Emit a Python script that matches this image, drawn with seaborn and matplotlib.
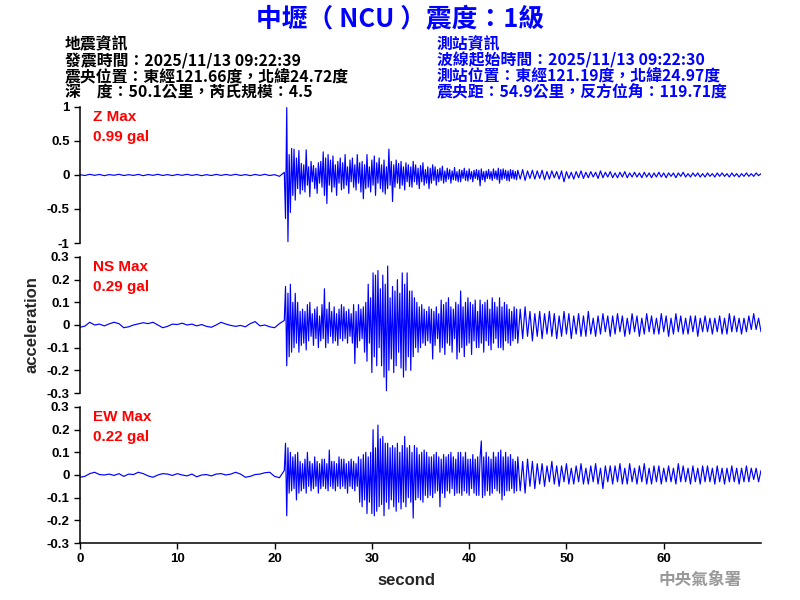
import numpy as np
import seaborn as sns
import matplotlib.pyplot as plt

# pre-event samples, every 0.5 s from 0 s
z_pre = [0.005, -0.008, 0.01, -0.005, 0.008, -0.01, 0.006, -0.004, 0.01, -0.008,
         0.005, -0.006, 0.009, -0.01, 0.007, -0.005, 0.01, -0.007, 0.006, -0.009,
         0.008, -0.005, 0.01, -0.006, 0.007, -0.01, 0.005, -0.008, 0.009, -0.006,
         0.008, -0.005, 0.01, -0.007, 0.006, -0.009, 0.008, -0.006, 0.01, -0.008,
         0.005, -0.02]
ns_pre = [-0.01, -0.005, 0.012, 0.0, 0.004, -0.004, 0.005, 0.012, 0.006, -0.012,
          -0.008, 0.0, 0.005, 0.01, 0.006, 0.012, 0.0, -0.012, -0.006, 0.004,
          0.002, 0.008, 0.0, 0.004, -0.004, 0.002, -0.006, -0.01, 0.0, 0.012,
          0.004, -0.002, -0.006, -0.002, -0.008, 0.006, 0.015, -0.004, 0.0, -0.008,
          -0.012, 0.006]
ew_pre = [-0.01, -0.006, 0.006, 0.012, 0.002, 0.0, 0.004, -0.002, 0.006, -0.006,
          0.004, 0.002, 0.012, 0.006, -0.004, -0.01, 0.0, 0.006, 0.004, -0.002,
          0.006, 0.0, -0.004, 0.004, -0.008, 0.0, 0.002, -0.004, 0.004, 0.006,
          0.0, 0.004, 0.012, 0.004, -0.01, -0.006, 0.002, 0.004, 0.01, 0.012,
          -0.006, -0.012]

# strong shaking, local peaks every 0.125 s from 21 s (one row = 1 s)
z_act = [0.04, -0.64, 0.99, -0.98, 0.3, -0.55, 0.39, -0.3,
         0.38, -0.37, 0.25, -0.2, 0.36, -0.28, 0.17, -0.22,
         0.15, -0.25, 0.37, -0.15, 0.12, -0.32, 0.2, -0.1,
         0.14, -0.2, 0.1, -0.27, 0.18, -0.12, 0.2, -0.18,
         0.34, -0.3, 0.25, -0.42, 0.3, -0.15, 0.22, -0.25,
         0.28, -0.18, 0.15, -0.3, 0.2, -0.12, 0.25, -0.22,
         0.18, -0.2, 0.3, -0.15, 0.12, -0.27, 0.22, -0.1,
         0.25, -0.18, 0.15, -0.22, 0.3, -0.12, 0.18, -0.25,
         0.2, -0.35, 0.15, -0.2, 0.3, -0.18, 0.12, -0.25,
         0.22, -0.15, 0.28, -0.3, 0.18, -0.12, 0.25, -0.2,
         0.15, -0.25, 0.22, -0.28, 0.12, -0.2, 0.38, -0.15,
         0.2, -0.39, 0.15, -0.18, 0.22, -0.12, 0.17, -0.2,
         0.2, -0.15, 0.12, -0.22, 0.18, -0.1, 0.15, -0.17,
         0.12, -0.18, 0.2, -0.1, 0.15, -0.14, 0.1, -0.2,
         0.14, -0.1, 0.18, -0.15, 0.08, -0.12, 0.12, -0.2,
         0.1, -0.12, 0.15, -0.08, 0.12, -0.15, 0.08, -0.1,
         0.1, -0.08, 0.13, -0.12, 0.06, -0.1, 0.1, -0.06,
         0.08, -0.12, 0.06, -0.07, 0.11, -0.08, 0.05, -0.1,
         0.08, -0.1, 0.07, -0.05, 0.1, -0.08, 0.06, -0.09,
         0.09, -0.06, 0.05, -0.1, 0.07, -0.05, 0.08, -0.07,
         0.07, -0.16, 0.09, -0.07, 0.05, -0.1, 0.06, -0.05,
         0.08, -0.06, 0.05, -0.08, 0.09, -0.05, 0.06, -0.07,
         0.1, -0.12, 0.08, -0.07, 0.09, -0.05, 0.07, -0.08,
         0.06, -0.09, 0.08, -0.05, 0.07, -0.06, 0.05, -0.07]
ns_act = [0.02, 0.17, -0.18, 0.14, -0.14, 0.18, -0.12, 0.1,
          -0.1, 0.14, -0.08, 0.1, -0.12, 0.06, -0.09, 0.07,
          -0.08, 0.06, -0.11, 0.09, -0.07, 0.1, -0.05, 0.05,
          -0.09, 0.07, -0.06, 0.08, -0.1, 0.04, -0.07, 0.09,
          -0.06, 0.16, -0.1, 0.07, -0.08, 0.1, -0.05, 0.06,
          -0.08, 0.08, -0.07, 0.05, -0.09, 0.07, -0.06, 0.09,
          -0.07, 0.08, -0.06, 0.06, -0.08, 0.07, -0.05, 0.05,
          -0.08, 0.09, -0.17, 0.06, -0.1, 0.09, -0.07, 0.07,
          -0.06, 0.08, -0.12, 0.1, -0.16, 0.18, -0.08, 0.12,
          -0.21, 0.23, -0.14, 0.22, -0.18, 0.24, -0.1, 0.16,
          -0.18, 0.22, -0.23, 0.18, -0.29, 0.26, -0.2, 0.12,
          -0.15, 0.17, -0.21, 0.15, -0.18, 0.2, -0.12, 0.14,
          -0.19, 0.23, -0.23, 0.18, -0.2, 0.23, -0.14, 0.15,
          -0.2, 0.15, -0.14, 0.12, -0.1, 0.1, -0.12, 0.08,
          -0.1, 0.09, -0.08, 0.07, -0.09, 0.06, -0.07, 0.08,
          -0.08, 0.07, -0.15, 0.06, -0.09, 0.08, -0.06, 0.05,
          -0.12, 0.11, -0.1, 0.09, -0.13, 0.1, -0.08, 0.12,
          -0.09, 0.08, -0.12, 0.07, -0.06, 0.1, -0.15, 0.09,
          -0.12, 0.15, -0.1, 0.08, -0.14, 0.1, -0.09, 0.12,
          -0.08, 0.1, -0.13, 0.09, -0.07, 0.11, -0.1, 0.06,
          -0.1, 0.11, -0.08, 0.09, -0.12, 0.1, -0.07, 0.11,
          -0.09, 0.07, -0.11, 0.12, -0.08, 0.1, -0.06, 0.08,
          -0.1, 0.12, -0.1, 0.08, -0.11, 0.1, -0.07, 0.09,
          -0.08, 0.07, -0.09, 0.06, -0.07, 0.08, -0.06, 0.07]
ew_act = [0.02, 0.14, -0.18, 0.12, -0.08, 0.1, -0.07, 0.08,
          -0.06, 0.09, -0.11, 0.1, -0.08, 0.06, -0.07, 0.05,
          -0.06, 0.07, -0.08, 0.1, -0.05, 0.06, -0.07, 0.05,
          -0.06, 0.08, -0.05, 0.06, -0.08, 0.05, -0.06, 0.07,
          -0.05, 0.07, -0.06, 0.05, -0.07, 0.11, -0.05, 0.06,
          -0.06, 0.06, -0.07, 0.05, -0.05, 0.08, -0.06, 0.07,
          -0.05, 0.07, -0.06, 0.05, -0.08, 0.06, -0.05, 0.07,
          -0.06, 0.06, -0.07, 0.05, -0.05, 0.08, -0.12, 0.07,
          -0.14, 0.09, -0.11, 0.1, -0.17, 0.08, -0.12, 0.1,
          -0.17, 0.2, -0.18, 0.12, -0.16, 0.22, -0.14, 0.16,
          -0.13, 0.17, -0.18, 0.14, -0.12, 0.14, -0.15, 0.12,
          -0.11, 0.13, -0.14, 0.12, -0.16, 0.14, -0.12, 0.1,
          -0.15, 0.13, -0.12, 0.17, -0.14, 0.12, -0.1, 0.13,
          -0.12, 0.1, -0.19, 0.13, -0.11, 0.12, -0.1, 0.09,
          -0.11, 0.1, -0.12, 0.11, -0.09, 0.1, -0.1, 0.08,
          -0.09, 0.08, -0.1, 0.09, -0.08, 0.1, -0.07, 0.08,
          -0.14, 0.07, -0.08, 0.09, -0.1, 0.08, -0.07, 0.09,
          -0.08, 0.1, -0.06, 0.08, -0.09, 0.07, -0.08, 0.1,
          -0.08, 0.1, -0.09, 0.08, -0.07, 0.1, -0.08, 0.07,
          -0.09, 0.07, -0.06, 0.09, -0.08, 0.07, -0.09, 0.08,
          -0.09, 0.08, 0.15, -0.1, 0.08, -0.09, 0.1, -0.07,
          0.08, -0.09, 0.07, -0.08, 0.1, -0.06, 0.08, -0.07,
          0.1, -0.08, 0.11, -0.11, 0.08, -0.09, 0.1, -0.07,
          0.08, -0.07, 0.09, -0.06, 0.07, -0.08, 0.06, -0.07]

# coda, local peaks every 0.25 s from 45 s (one row = 2 s)
z_late = [0.07, -0.06, 0.08, -0.08, 0.06, -0.05, 0.07, -0.06,
          0.06, -0.05, 0.07, -0.07, 0.05, -0.06, 0.06, -0.04,
          0.05, -0.06, 0.06, -0.1, 0.05, -0.05, 0.04, -0.06,
          0.05, -0.04, 0.06, -0.05, 0.04, -0.04, 0.05, -0.03,
          0.04, -0.05, 0.06, -0.04, 0.04, -0.03, 0.05, -0.04,
          0.03, -0.04, 0.04, -0.03, 0.05, -0.04, 0.03, -0.03,
          0.04, -0.03, 0.03, -0.04, 0.04, -0.03, 0.03, -0.04,
          0.03, -0.03, 0.04, -0.03, 0.03, -0.04, 0.03, -0.02,
          0.03, -0.04, 0.03, -0.02, 0.04, -0.03, 0.02, -0.03,
          0.03, -0.02, 0.03, -0.03, 0.02, -0.03, 0.03, -0.02,
          0.02, -0.03, 0.03, -0.02, 0.03, -0.02, 0.02, -0.03,
          0.03, -0.02, 0.02, -0.03, 0.02, -0.02, 0.03, -0.02,
          0.02, -0.02, 0.03, -0.01, 0.02, -0.02, 0.01, -0.01]
ns_late = [-0.08, 0.07, -0.06, 0.08, -0.05, 0.06, -0.07, 0.05,
           -0.05, 0.06, -0.06, 0.05, -0.04, 0.06, -0.05, 0.05,
           -0.06, 0.04, -0.05, 0.06, -0.04, 0.05, -0.06, 0.04,
           -0.04, 0.05, -0.05, 0.04, -0.05, 0.06, -0.04, 0.03,
           -0.05, 0.04, -0.04, 0.05, -0.03, 0.04, -0.05, 0.04,
           -0.04, 0.05, -0.03, 0.04, -0.05, 0.03, -0.04, 0.05,
           -0.03, 0.04, -0.05, 0.03, -0.04, 0.05, -0.03, 0.04,
           -0.04, 0.03, -0.04, 0.05, -0.03, 0.04, -0.05, 0.03,
           -0.04, 0.05, -0.03, 0.04, -0.04, 0.03, -0.04, 0.04,
           -0.03, 0.04, -0.05, 0.03, -0.03, 0.04, -0.03, 0.03,
           -0.04, 0.03, -0.03, 0.04, -0.04, 0.03, -0.04, 0.05,
           -0.03, 0.04, -0.03, 0.03, -0.04, 0.03, -0.03, 0.04,
           -0.02, 0.05, -0.02, 0.03, -0.03, 0.02, -0.02, 0.03]
ew_late = [0.08, -0.07, 0.06, -0.08, 0.07, -0.05, 0.06, -0.06,
           0.05, -0.04, 0.05, -0.05, 0.04, -0.03, 0.06, -0.04,
           0.04, -0.05, 0.04, -0.03, 0.05, -0.04, 0.03, -0.04,
           0.04, -0.03, 0.05, -0.04, 0.03, -0.04, 0.04, -0.03,
           0.05, -0.04, 0.03, -0.06, 0.04, -0.03, 0.04, -0.04,
           0.04, -0.03, 0.05, -0.04, 0.03, -0.04, 0.05, -0.03,
           0.03, -0.04, 0.04, -0.03, 0.05, -0.04, 0.03, -0.04,
           0.04, -0.03, 0.04, -0.04, 0.03, -0.03, 0.04, -0.03,
           0.03, -0.04, 0.05, -0.03, 0.04, -0.03, 0.03, -0.04,
           0.04, -0.03, 0.03, -0.04, 0.04, -0.03, 0.04, -0.03,
           0.03, -0.04, 0.04, -0.03, 0.03, -0.04, 0.03, -0.03,
           0.04, -0.03, 0.03, -0.04, 0.03, -0.03, 0.04, -0.03,
           0.03, -0.02, 0.03, -0.03, 0.02, -0.03, 0.03, -0.02]

comp_names = ['Z', 'NS', 'EW']
comp_max = ['0.99 gal', '0.29 gal', '0.22 gal']
z_ticks = [-1, -0.5, 0, 0.5, 1]
z_labels = ['-1', '-0.5', '0', '0.5', '1']
h_ticks = [-0.3, -0.2, -0.1, 0, 0.1, 0.2, 0.3]
h_labels = ['-0.3', '-0.2', '-0.1', '0', '0.1', '0.2', '0.3']
x_ticks = [0, 10, 20, 30, 40, 50, 60]

left_info = ['地震資訊',
             '發震時間：2025/11/13 09:22:39',
             '震央位置：東經121.66度，北緯24.72度',
             '深　度：50.1公里，芮氏規模：4.5']
right_info = ['測站資訊',
              '波線起始時間：2025/11/13 09:22:30',
              '測站位置：東經121.19度，北緯24.97度',
              '震央距：54.9公里，反方位角：119.71度']

sns.set_style('ticks')
plt.rcParams['font.family'] = ['Noto Sans CJK TC', 'DejaVu Sans']

fig = plt.figure(figsize=(8, 6), dpi=100)
t = np.concatenate([np.arange(len(z_pre)) * 0.5,
                    21 + np.arange(len(z_act)) * 0.125,
                    45 + np.arange(len(z_late)) * 0.25])

traces = [z_pre + z_act + z_late, ns_pre + ns_act + ns_late, ew_pre + ew_act + ew_late]
bottoms = [0.595, 0.345, 0.095]
for i, name in enumerate(comp_names):
    ax = fig.add_axes([0.1, bottoms[i], 0.85125, 0.2267])
    sns.lineplot(x=t, y=traces[i], ax=ax, color='blue', linewidth=0.85)
    ax.set_xlim(0, 70)
    if i == 0:
        ax.set_ylim(-1, 1)
        ax.set_yticks(z_ticks)
        ax.set_yticklabels(z_labels)
    else:
        ax.set_ylim(-0.3, 0.3)
        ax.set_yticks(h_ticks)
        ax.set_yticklabels(h_labels)
    sns.despine(ax=ax, bottom=(i < 2))
    if i < 2:
        ax.set_xticks([])
    else:
        ax.set_xticks(x_ticks)
        ax.set_xticklabels([str(x) for x in x_ticks])
    ax.tick_params(direction='out', length=4, width=1, labelsize=9.5, colors='black')
    for lab in ax.get_xticklabels() + ax.get_yticklabels():
        lab.set_family('Liberation Sans')
        lab.set_fontweight('bold')
    for s in ax.spines.values():
        s.set_linewidth(1.1)
        s.set_color('black')
    ax.text(0.019, 0.926, name + ' Max', transform=ax.transAxes, color='red',
            fontsize=11, ha='left', va='center', family='Liberation Sans',
            fontweight='bold')
    ax.text(0.019, 0.78, comp_max[i], transform=ax.transAxes, color='red',
            fontsize=11, ha='left', va='center', family='Liberation Sans',
            fontweight='bold')

fig.text(0.5, 0.968, '中壢（ NCU ）震度：1級', color='blue', fontsize=18.5,
         fontweight='bold', ha='center', va='center')
ys = [0.9267, 0.9, 0.8733, 0.8467]
for k in range(4):
    fig.text(0.081, ys[k], left_info[k], color='black', fontsize=11.4,
             fontweight='bold', ha='left', va='center')
    fig.text(0.546, ys[k], right_info[k], color='blue', fontsize=11.4,
             fontweight='bold', ha='left', va='center')

fig.text(0.04, 0.4583, 'acceleration', rotation=90, fontsize=12, ha='center',
         va='center', family='Liberation Sans', fontweight='bold')
fig.text(0.508, 0.033, 'second', fontsize=12, ha='center', va='center',
         family='Liberation Sans', fontweight='bold')
fig.text(0.875, 0.033, '中央氣象署', fontsize=12, color='#999999', ha='center',
         va='center', fontweight='bold')

fig.savefig('out.png', dpi=100)
